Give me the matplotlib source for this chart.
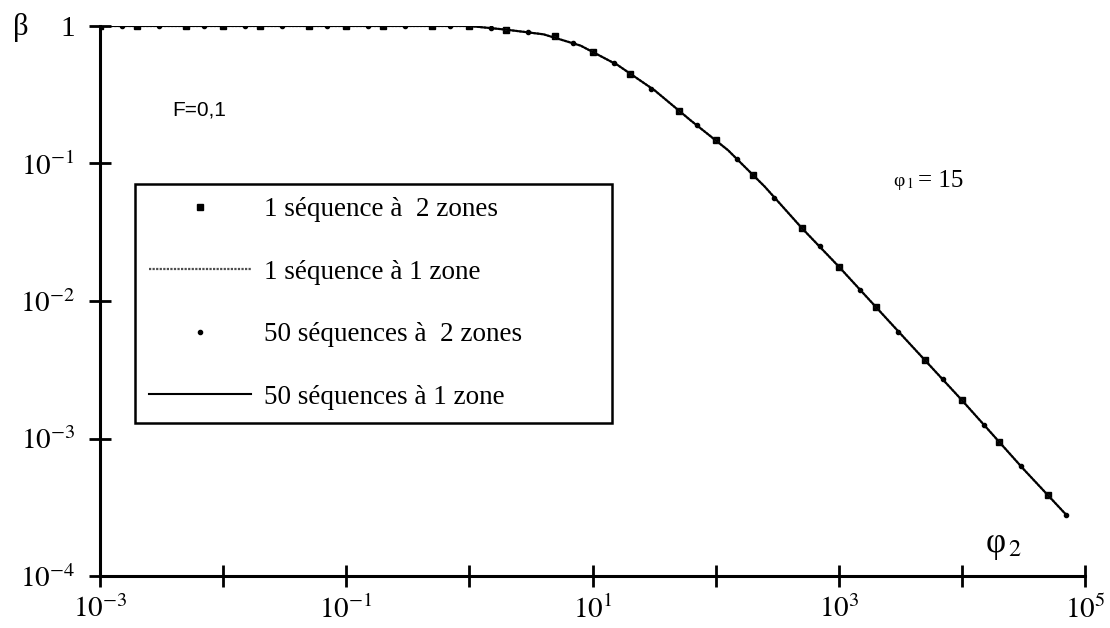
import matplotlib.pyplot as plt

plt.rcParams['font.family'] = ['Liberation Serif', 'DejaVu Serif']
plt.rcParams['mathtext.fontset'] = 'stix'

# courbe continue (modeles a 1 zone)
phi2_line = [0.001, 0.01, 0.1, 1, 2, 4, 8, 16, 32, 63, 126, 250, 500,
             1000, 3160, 10000, 31600, 70000]
beta_50seq_1zone = [1.0, 1.0, 1.0, 1.0, 0.94, 0.87, 0.72, 0.52, 0.34, 0.205,
                    0.125, 0.068, 0.034, 0.0178, 0.0058, 0.0019, 0.00060, 0.00028]
beta_1seq_1zone = [1.0, 1.0, 1.0, 1.0, 0.94, 0.87, 0.72, 0.52, 0.34, 0.205,
                   0.125, 0.068, 0.034, 0.0178, 0.0058, 0.0019, 0.00060, 0.00028]

# points (modeles a 2 zones)
phi2_sq = [0.001, 0.002, 0.005, 0.01, 0.02, 0.05, 0.1, 0.2, 0.5, 1, 2, 5, 10,
           20, 50, 100, 200, 500, 1000, 2000, 5000, 10000, 20000, 50000]
beta_1seq_2zones = [1.0, 1.0, 1.0, 1.0, 1.0, 1.0, 1.0, 1.0, 1.0, 1.0, 0.94, 0.84,
                    0.65, 0.45, 0.24, 0.148, 0.083, 0.034, 0.0178, 0.0091,
                    0.0037, 0.0019, 0.00095, 0.00039]
phi2_dot = [0.0015, 0.003, 0.007, 0.015, 0.03, 0.07, 0.15, 0.3, 0.7, 1.5, 3, 7,
            15, 30, 70, 150, 300, 700, 1500, 3000, 7000, 15000, 30000, 70000]
beta_50seq_2zones = [1.0, 1.0, 1.0, 1.0, 1.0, 1.0, 1.0, 1.0, 1.0, 0.97, 0.90,
                     0.75, 0.54, 0.35, 0.19, 0.107, 0.056, 0.025, 0.012, 0.006,
                     0.0027, 0.00126, 0.00063, 0.00028]

xticks = [1e-3, 1e-2, 1e-1, 1, 1e1, 1e2, 1e3, 1e4, 1e5]
xlabels = ['$10^{-3}$', '', '$10^{-1}$', '', '$10^{1}$', '', '$10^{3}$', '', '$10^{5}$']
yticks = [1e-4, 1e-3, 1e-2, 1e-1, 1]
ylabels = ['$10^{-4}$', '$10^{-3}$', '$10^{-2}$', '$10^{-1}$', '1']

fig = plt.figure(figsize=(11.1, 6.28), dpi=100)
ax = fig.add_axes([0.0901, 0.0828, 0.8874, 0.8758])

ax.plot(phi2_sq, beta_1seq_2zones, ls='none', marker='s', ms=4, color='black',
        label='1 séquence à  2 zones')
ax.plot(phi2_line, beta_1seq_1zone, ls=(0, (1, 0.6)), lw=1.6, color='0.3',
        label='1 séquence à 1 zone')
ax.plot(phi2_dot, beta_50seq_2zones, ls='none', marker='o', ms=3, color='black',
        label='50 séquences à  2 zones')
ax.plot(phi2_line, beta_50seq_1zone, ls='-', lw=1.5, color='black',
        label='50 séquences à 1 zone')

ax.set_xscale('log')
ax.set_yscale('log')
ax.set_xlim(1e-3, 1e5)
ax.set_ylim(1e-4, 1)
ax.minorticks_off()
ax.set_xticks(xticks)
ax.set_xticklabels(xlabels)
ax.set_yticks(yticks)
ax.set_yticklabels(ylabels)
ax.tick_params(direction='inout', length=16, width=2, labelsize=21, pad=6)
ax.tick_params(axis='y', pad=10)

for s in ['top', 'right']:
    ax.spines[s].set_visible(False)
for s in ['left', 'bottom']:
    ax.spines[s].set_linewidth(2.2)

leg = ax.legend(loc='upper left', bbox_to_anchor=(0.0355, 0.289, 0.4845, 0.424),
                mode='expand', borderaxespad=0, fancybox=False, framealpha=1,
                edgecolor='black', fontsize=19.5, numpoints=1, handlelength=3.8,
                handletextpad=0.48, labelspacing=1.38, borderpad=0.5)
leg.get_frame().set_linewidth(1.8)

fig.text(13 / 1110, 1 - 27 / 628, 'β', fontsize=22, va='center', ha='left')
fig.text(172 / 1110, 1 - 110 / 628, 'F=0,1', fontsize=15, va='center', ha='left',
         family='Liberation Sans')
fig.text(893 / 1110, 1 - 183 / 628, 'φ$_{\\,1}$', fontsize=14, va='center', ha='left')
fig.text(918 / 1110, 1 - 181 / 628, '= 15', fontsize=18, va='center', ha='left')
fig.text(985 / 1110, 1 - 545 / 628, 'φ$_{\\,2}$', fontsize=25, va='center', ha='left')

fig.savefig('out.png', dpi=100)
